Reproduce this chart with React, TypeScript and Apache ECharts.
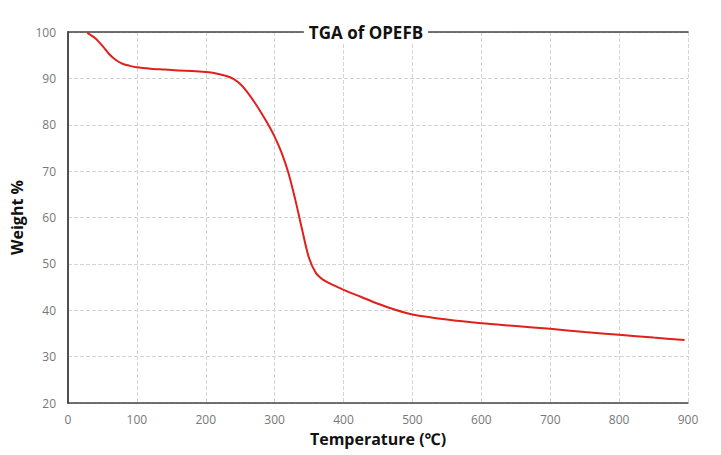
import React, { useEffect, useRef } from "react";
import * as echarts from "echarts";

const temperature = [28, 40, 50, 60, 70, 80, 90, 100, 120, 140, 160, 180, 200, 210, 220, 230, 240, 250, 260, 270, 280, 290, 300, 310, 320, 330, 340, 350, 360, 370, 380, 390, 400, 425, 450, 475, 500, 550, 600, 650, 700, 750, 800, 850, 895];
const weight = [99.8, 98.6, 97.0, 95.2, 93.9, 93.1, 92.7, 92.4, 92.1, 91.9, 91.7, 91.6, 91.4, 91.2, 90.9, 90.5, 89.9, 88.8, 87.1, 85.0, 82.7, 80.2, 77.4, 74.0, 69.6, 63.8, 57.3, 51.2, 48.0, 46.6, 45.8, 45.1, 44.4, 42.9, 41.4, 40.1, 39.1, 38.0, 37.2, 36.6, 36.0, 35.3, 34.7, 34.1, 33.6];
const xTicks = { min: 0, max: 900, interval: 100 };
const yTicks = { min: 20, max: 100, interval: 10 };

export default function App() {
  const ref = useRef<HTMLDivElement>(null);
  useEffect(() => {
    if (!ref.current) return;
    const chart = echarts.init(ref.current, undefined, { renderer: "svg" });
    const font = "'Open Sans', 'Noto Sans', sans-serif";
    const border = { show: true, lineStyle: { color: "#444", width: 1.5 } };
    const grid = { show: true, lineStyle: { color: "#d4d4d4", type: "dashed", width: 1 } };
    chart.setOption({
      animation: false,
      backgroundColor: "#fff",
      textStyle: { fontFamily: font },
      title: {
        text: "TGA of OPEFB",
        left: 361,
        textAlign: "center",
        top: 21,
        padding: [1, 5],
        backgroundColor: "#fff",
        textStyle: { fontSize: 17, fontWeight: "bold", color: "#111", fontFamily: font, lineHeight: 20 },
      },
      grid: {
        left: 68,
        right: 33,
        top: 32,
        bottom: 52,
      },
      xAxis: [
        {
          type: "value",
          min: xTicks.min,
          max: xTicks.max,
          interval: xTicks.interval,
          name: "Temperature (℃)",
          nameLocation: "middle",
          nameGap: 28,
          nameTextStyle: { fontSize: 16, fontWeight: "bold", color: "#111", fontFamily: font },
          axisLine: border,
          axisTick: { show: false },
          axisLabel: { color: "#777", fontSize: 12, margin: 10, fontFamily: font },
          splitLine: grid,
        },
        {
          type: "value",
          position: "top",
          min: xTicks.min,
          max: xTicks.max,
          interval: xTicks.interval,
          axisLine: border,
          axisTick: { show: false },
          axisLabel: { show: false },
          splitLine: { show: false },
        },
      ],
      yAxis: [
        {
          type: "value",
          min: yTicks.min,
          max: yTicks.max,
          interval: yTicks.interval,
          name: "Weight %",
          nameLocation: "middle",
          nameGap: 38,
          nameTextStyle: { fontSize: 16, fontWeight: "bold", color: "#111", fontFamily: font },
          axisLine: border,
          axisTick: { show: false },
          axisLabel: { color: "#777", fontSize: 12, margin: 12, fontFamily: font },
          splitLine: grid,
        },
        {
          type: "value",
          position: "right",
          min: yTicks.min,
          max: yTicks.max,
          interval: yTicks.interval,
          axisLine: border,
          axisTick: { show: false },
          axisLabel: { show: false },
          splitLine: { show: false },
        },
      ],
      series: [
        {
          type: "line",
          data: temperature.map((t, i) => [t, weight[i]]),
          smooth: 0.3,
          showSymbol: false,
          lineStyle: { color: "#e0201c", width: 2 },
          z: 3,
        },
      ],
    });
    return () => chart.dispose();
  }, []);
  return (
    <div
      ref={ref}
      style={{ position: "absolute", left: 0, top: 0, width: 721, height: 455 }}
    />
  );
}
